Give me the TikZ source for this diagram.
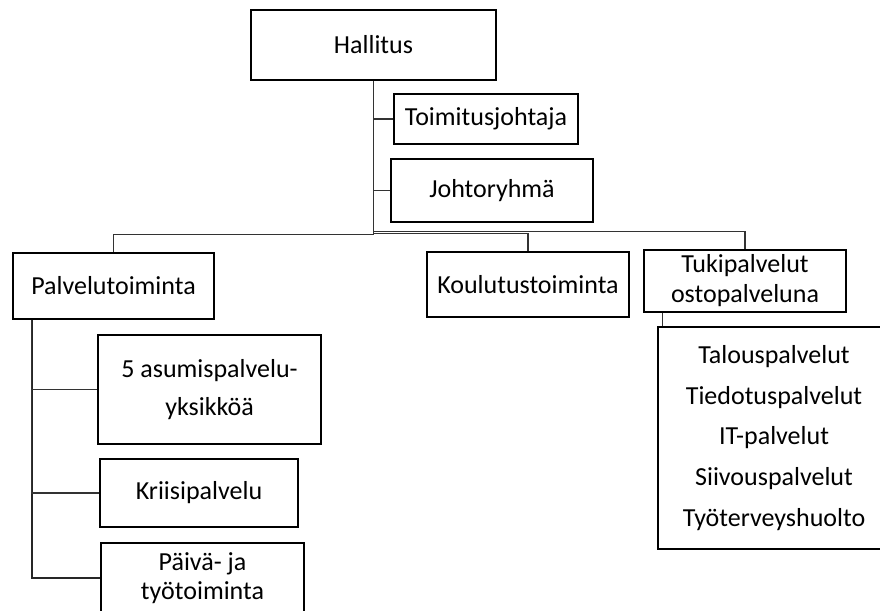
\documentclass[tikz,border=0pt]{standalone}
\usepackage{fontspec}
\setmainfont{Carlito}
\begin{document}
\begin{tikzpicture}[x=1pt,y=-1pt,
  box/.style={draw=black, line width=2.6pt, fill=white, inner sep=0pt,
    align=center, font=\fontsize{26}{31}\selectfont},
  link/.style={draw=black!80, line width=1.1pt},
  trunk/.style={draw=black!85, line width=1.6pt}]
\useasboundingbox (0,0) rectangle (880,610);
\fill[white] (0,0) rectangle (880,610);
\clip (0,0) rectangle (880,610);

% top level
\node[box, minimum width=245pt, minimum height=70pt] (hal) at (373.5,45) {Hallitus};
\node[box, minimum width=184pt, minimum height=50pt] (tj) at (486,119) {Toimitusjohtaja};
\node[box, minimum width=202pt, minimum height=63pt] (jr) at (492,190.5) {Johtoryhmä};

% second level
\node[box, minimum width=201pt, minimum height=66pt] (palv) at (113.5,286) {Palvelutoiminta};
\node[box, minimum width=202pt, minimum height=65pt] (kou) at (528,284.5) {Koulutustoiminta};
\node[box, minimum width=202pt, minimum height=62pt,
  font=\fontsize{26}{30}\selectfont] (tuki) at (745,281) {Tukipalvelut\\ostopalveluna};

% purchased services
\node[box, minimum width=232pt, minimum height=222pt,
  font=\fontsize{26}{40.8}\selectfont] (list) at (774,438)
  {Talouspalvelut\\Tiedotuspalvelut\\IT-palvelut\\Siivouspalvelut\\Työterveyshuolto};

% service units
\node[box, minimum width=223pt, minimum height=109pt,
  font=\fontsize{26}{38.7}\selectfont] (asu) at (209.5,389.5) {5 asumispalvelu-\\yksikköä};
\node[box, minimum width=198pt, minimum height=68pt] (kri) at (199,493) {Kriisipalvelu};
\node[box, minimum width=203pt, minimum height=70pt,
  font=\fontsize{26}{28.4}\selectfont] (pai) at (202.5,578) {Päivä- ja\\työtoiminta};

% connectors
\draw[trunk] (hal.south) -- ++(0,153);
\draw[link] (hal.south) |- (tj.west);
\draw[link] (hal.south) |- (jr.west);
\draw[link] (hal.south) -- ++(0,153) -| (palv.north);
\draw[link] (hal.south) -- ++(0,152.5) -| (kou.north);
\draw[link] (hal.south) -- ++(0,150) -| (tuki.north);
\draw[link] ([xshift=20pt]tuki.south west) -- ([xshift=20pt]tuki.south west |- list.north);
\draw[trunk] ([xshift=20pt]palv.south west) |- (pai.west);
\draw[link] ([xshift=20pt]palv.south west) |- (asu.west);
\draw[link] ([xshift=20pt]palv.south west) |- (kri.west);
\end{tikzpicture}
\end{document}
